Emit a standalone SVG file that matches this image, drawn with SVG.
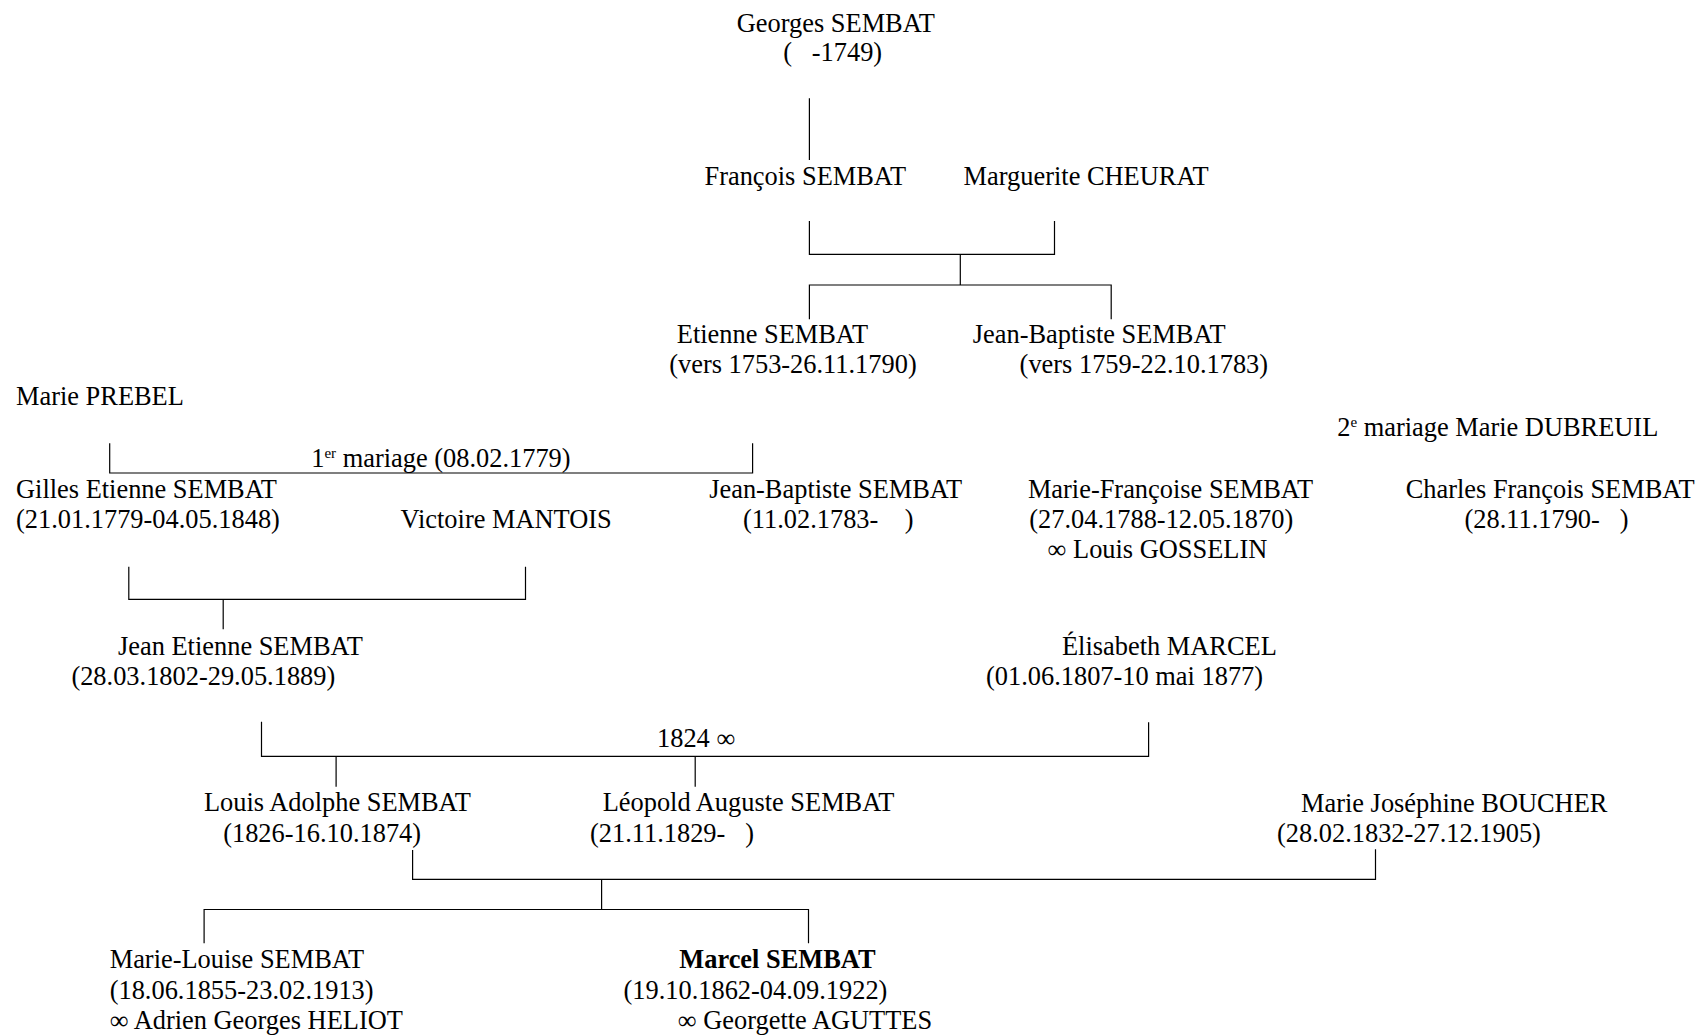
<svg xmlns="http://www.w3.org/2000/svg" width="1704" height="1035" viewBox="0 0 1704 1035">
<style>
text{font-family:"Liberation Serif","Times New Roman",serif;font-size:26.4px;fill:#000}
.b{font-weight:bold}
.sup{font-size:15px}
.c{fill:none;stroke:#000;stroke-width:1.2}
</style>
<rect width="1704" height="1035" fill="#fff"/>
<g id="connectors" class="c">
<path d="M809.4 98.3V160"/>
<path d="M809.4 221V254.3H1054.5V221M960.3 254.3V285"/>
<path d="M809.4 319.3V285H1111.2V319.3"/>
<path d="M109.7 443.3V473H752.6V443.3"/>
<path d="M128.8 566.7V599.3H525.5V566.7M223.2 599.3V629.3"/>
<path d="M261.5 721.7V756.3H1148.6V722.3"/>
<path d="M336.1 756.3V786.7M695.2 756.3V786.7"/>
<path d="M412.6 850V879.3H1375.5V849.3M601.6 879.3V909.5"/>
<path d="M204.1 943.3V909.5H808.5V943.3"/>
</g>
<g id="georges"><text x="736.8" y="31.6">Georges SEMBAT</text><text x="783.2" y="60.6">(&#160;&#160;&#160;-1749)</text></g>
<g id="francois"><text x="704.5" y="184.6">François SEMBAT</text></g>
<g id="marguerite"><text x="963.6" y="184.6">Marguerite CHEURAT</text></g>
<g id="etienne"><text x="676.8" y="343.3">Etienne SEMBAT</text><text x="669.2" y="372.8">(vers 1753-26.11.1790)</text></g>
<g id="jeanbaptiste1"><text x="972.8" y="343.3">Jean-Baptiste SEMBAT</text><text x="1019.6" y="372.8">(vers 1759-22.10.1783)</text></g>
<g id="marieprebel"><text x="16" y="405">Marie PREBEL</text></g>
<g id="mariage1"><text x="311.2" y="466.7">1<tspan class="sup" dy="-9">er</tspan><tspan dy="9"> mariage (08.02.1779)</tspan></text></g>
<g id="mariage2"><text x="1337.2" y="435.8">2<tspan class="sup" dy="-9">e</tspan><tspan dy="9"> mariage Marie DUBREUIL</tspan></text></g>
<g id="gilles"><text x="16" y="497.9">Gilles Etienne SEMBAT</text><text x="16" y="528.3">(21.01.1779-04.05.1848)</text></g>
<g id="victoire"><text x="400.5" y="528.3">Victoire MANTOIS</text></g>
<g id="jeanbaptiste2"><text x="709.2" y="497.9">Jean-Baptiste SEMBAT</text><text x="743" y="528.3">(11.02.1783-&#160;&#160;&#160;&#160;)</text></g>
<g id="mariefrancoise"><text x="1027.9" y="497.9">Marie-Françoise SEMBAT</text><text x="1029.3" y="528.3">(27.04.1788-12.05.1870)</text><text x="1047.6" y="558.3">∞ Louis GOSSELIN</text></g>
<g id="charles"><text x="1405.7" y="497.9">Charles François SEMBAT</text><text x="1464.5" y="528.3">(28.11.1790-&#160;&#160;&#160;)</text></g>
<g id="jeanetienne"><text x="118" y="655">Jean Etienne SEMBAT</text><text x="71.4" y="685">(28.03.1802-29.05.1889)</text></g>
<g id="elisabeth"><text x="1062" y="655">Élisabeth MARCEL</text><text x="986" y="685">(01.06.1807-10 mai 1877)</text></g>
<g id="mariage1824"><text x="657" y="746.7">1824 ∞</text></g>
<g id="louisadolphe"><text x="204" y="811.3">Louis Adolphe SEMBAT</text><text x="223.2" y="841.7">(1826-16.10.1874)</text></g>
<g id="leopold"><text x="602.7" y="811.3">Léopold Auguste SEMBAT</text><text x="590" y="841.7">(21.11.1829-&#160;&#160;&#160;)</text></g>
<g id="boucher"><text x="1301" y="811.5">Marie Joséphine BOUCHER</text><text x="1277" y="841.7">(28.02.1832-27.12.1905)</text></g>
<g id="marielouise"><text x="109.7" y="968">Marie-Louise SEMBAT</text><text x="109.7" y="998.8">(18.06.1855-23.02.1913)</text><text x="109.7" y="1028.8">∞ Adrien Georges HELIOT</text></g>
<g id="marcel"><text class="b" x="679.3" y="968">Marcel SEMBAT</text><text x="623.5" y="998.8">(19.10.1862-04.09.1922)</text><text x="677.8" y="1028.8">∞ Georgette AGUTTES</text></g>
</svg>
